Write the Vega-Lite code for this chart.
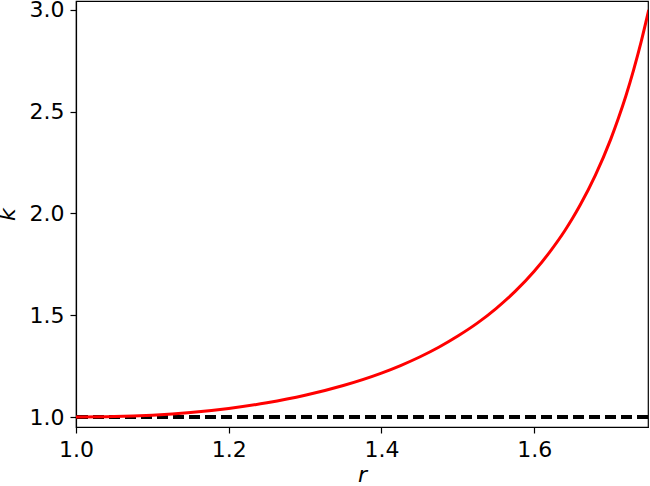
{
  "$schema": "https://vega.github.io/schema/vega-lite/v6.json",
  "width": 572,
  "height": 426,
  "autosize": {"type": "none"},
  "padding": {"left": 76, "top": 1, "right": 2, "bottom": 59},
  "background": "white",
  "config": {
    "view": {"stroke": "black", "strokeWidth": 1.2},
    "axis": {
      "grid": false,
      "domainColor": "black",
      "domainWidth": 1.2,
      "tickColor": "black",
      "tickWidth": 1.2,
      "tickSize": 6,
      "labelFont": "DejaVu Sans",
      "labelFontSize": 22,
      "labelColor": "black",
      "labelFlush": false,
      "labelOverlap": false,
      "titleFont": "DejaVu Sans",
      "titleFontSize": 22,
      "titleFontStyle": "italic",
      "titleFontWeight": "normal",
      "titleColor": "black"
    }
  },
  "data": {
    "values": [
      {"r": 1.00, "k": 1.000},
      {"r": 1.05, "k": 1.002},
      {"r": 1.10, "k": 1.009},
      {"r": 1.15, "k": 1.022},
      {"r": 1.20, "k": 1.042},
      {"r": 1.25, "k": 1.070},
      {"r": 1.30, "k": 1.107},
      {"r": 1.35, "k": 1.155},
      {"r": 1.40, "k": 1.216},
      {"r": 1.425, "k": 1.253},
      {"r": 1.45, "k": 1.295},
      {"r": 1.475, "k": 1.343},
      {"r": 1.50, "k": 1.398},
      {"r": 1.525, "k": 1.460},
      {"r": 1.55, "k": 1.533},
      {"r": 1.575, "k": 1.617},
      {"r": 1.60, "k": 1.716},
      {"r": 1.62, "k": 1.809},
      {"r": 1.64, "k": 1.915},
      {"r": 1.65, "k": 1.975},
      {"r": 1.66, "k": 2.040},
      {"r": 1.68, "k": 2.187},
      {"r": 1.70, "k": 2.363},
      {"r": 1.71, "k": 2.465},
      {"r": 1.72, "k": 2.577},
      {"r": 1.73, "k": 2.703},
      {"r": 1.74, "k": 2.843},
      {"r": 1.75, "k": 3.000}
    ]
  },
  "layer": [
    {
      "mark": {"type": "rule", "color": "black", "strokeWidth": 3, "strokeDash": [11, 5]},
      "encoding": {"y": {"datum": 1.0, "type": "quantitative"}}
    },
    {
      "mark": {"type": "line", "color": "#ff0000", "strokeWidth": 3, "interpolate": "monotone", "clip": true},
      "encoding": {
        "x": {
          "field": "r", "type": "quantitative",
          "scale": {"domain": [1.0, 1.749], "nice": false, "zero": false},
          "axis": {"values": [1.0, 1.2, 1.4, 1.6], "format": ".1f", "title": "r", "labelPadding": 6, "titlePadding": 4}
        },
        "y": {
          "field": "k", "type": "quantitative",
          "scale": {"domain": [0.951, 3.044], "nice": false, "zero": false},
          "axis": {"values": [1.0, 1.5, 2.0, 2.5, 3.0], "format": ".1f", "title": "k", "labelPadding": 6, "titlePadding": 10}
        }
      }
    }
  ]
}
